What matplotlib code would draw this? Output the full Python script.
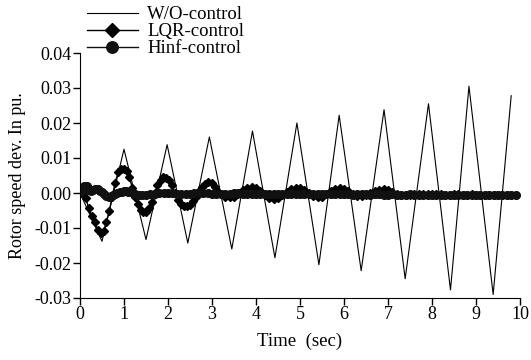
import matplotlib
matplotlib.use("Agg")
import matplotlib.pyplot as plt
from matplotlib.ticker import FormatStrFormatter

plt.rcParams['font.family'] = ['Liberation Serif', 'DejaVu Serif']

# W/O-control: triangle wave (turning points)
wo_t = [0.0, 0.50, 1.00, 1.50, 1.98, 2.45, 2.94, 3.45, 3.92, 4.43, 4.93,
        5.43, 5.89, 6.39, 6.91, 7.39, 7.92, 8.42, 8.84, 9.39, 9.80]
wo_v = [0.0, -0.0138, 0.0125, -0.0133, 0.0138, -0.0143, 0.0160, -0.0160,
        0.0177, -0.0185, 0.0200, -0.0205, 0.0222, -0.0222, 0.0238, -0.0245,
        0.0255, -0.0277, 0.0305, -0.0290, 0.0278]

# LQR-control
lqr_t = [0.00, 0.07, 0.13, 0.20, 0.27, 0.33, 0.40, 0.47, 0.54, 0.60, 0.67,
         0.73, 0.80, 0.87, 0.93, 1.00, 1.06, 1.12, 1.19, 1.25, 1.31, 1.38,
         1.44, 1.51, 1.57, 1.63, 1.70, 1.76, 1.83, 1.89, 1.96, 2.02, 2.09,
         2.15, 2.22, 2.29, 2.36, 2.43, 2.50, 2.57, 2.64, 2.71, 2.78, 2.85,
         2.92, 2.99, 3.06, 3.13, 3.20, 3.30, 3.40, 3.50, 3.60, 3.70, 3.80,
         3.90, 4.00, 4.10, 4.20, 4.30, 4.40, 4.50, 4.60, 4.70, 4.80, 4.90,
         5.00, 5.10, 5.20, 5.30, 5.40, 5.50, 5.60, 5.70, 5.80, 5.90, 6.00,
         6.10, 6.20, 6.30, 6.40, 6.50, 6.60, 6.70, 6.80, 6.90, 7.00, 7.10,
         7.20, 7.30, 7.40, 7.50, 7.60, 7.70, 7.80, 7.90, 8.00, 8.10, 8.20,
         8.30, 8.40, 8.50, 8.60, 8.70, 8.80, 8.90, 9.00, 9.10, 9.20, 9.30,
         9.40, 9.50, 9.60, 9.70, 9.80, 9.90]
lqr_v = [0.0000, 0.0000, -0.0015, -0.0044, -0.0066, -0.0084, -0.0105,
         -0.0113, -0.0108, -0.0082, -0.0050, -0.0010, 0.0030, 0.0060,
         0.0068, 0.0070, 0.0062, 0.0045, 0.0015, -0.0010, -0.0030, -0.0048,
         -0.0054, -0.0055, -0.0042, -0.0025, 0.0000, 0.0022, 0.0038, 0.0045,
         0.0042, 0.0036, 0.0022, 0.0000, -0.0020, -0.0030, -0.0036, -0.0038,
         -0.0034, -0.0024, -0.0010, 0.0005, 0.0018, 0.0027, 0.0031, 0.0028,
         0.0016, 0.0004, -0.0004, -0.0010, -0.0012, -0.0010, -0.0002, 0.0008,
         0.0014, 0.0016, 0.0013, 0.0005, -0.0006, -0.0014, -0.0017, -0.0015,
         -0.0007, 0.0004, 0.0011, 0.0014, 0.0014, 0.0009, 0.0000, -0.0008,
         -0.0011, -0.0010, -0.0004, 0.0005, 0.0011, 0.0013, 0.0011, 0.0005,
         -0.0003, -0.0008, -0.0009, -0.0007, 0.0000, 0.0007, 0.0010, 0.0011,
         0.0008, 0.0002, -0.0003, -0.0006, -0.0006, -0.0005, -0.0003,
         -0.0002, -0.0003, -0.0004, -0.0004, -0.0003, -0.0004, -0.0005,
         -0.0005, -0.0004, -0.0004, -0.0005, -0.0005, -0.0004, -0.0005,
         -0.0005, -0.0006, -0.0005, -0.0005, -0.0006, -0.0006, -0.0005,
         -0.0006, -0.0006]

# Hinf-control
hinf_t = [0.00, 0.05, 0.10, 0.15, 0.20, 0.25, 0.30, 0.35, 0.40, 0.45, 0.50,
          0.55, 0.60, 0.65, 0.70, 0.75, 0.80, 0.85, 0.90, 0.95, 1.00, 1.05,
          1.10, 1.15, 1.20, 1.25, 1.30, 1.35, 1.40, 1.50, 1.60, 1.70, 1.80,
          1.90, 2.00, 2.10, 2.20, 2.30, 2.40, 2.50, 2.60, 2.70, 2.80, 2.90,
          3.00, 3.10, 3.20, 3.30, 3.40, 3.50, 3.60, 3.70, 3.80, 3.90, 4.00,
          4.10, 4.20, 4.30, 4.40, 4.50, 4.60, 4.70, 4.80, 4.90, 5.00, 5.10,
          5.20, 5.30, 5.40, 5.50, 5.60, 5.70, 5.80, 5.90, 6.00, 6.10, 6.20,
          6.30, 6.40, 6.50, 6.60, 6.70, 6.80, 6.90, 7.00, 7.10, 7.20, 7.30,
          7.40, 7.50, 7.60, 7.70, 7.80, 7.90, 8.00, 8.10, 8.20, 8.30, 8.40,
          8.50, 8.60, 8.70, 8.80, 8.90, 9.00, 9.10, 9.20, 9.30, 9.40, 9.50,
          9.60, 9.70, 9.80, 9.90]
hinf_v = [0.0000, 0.0010, 0.0020, 0.0020, 0.0010, 0.0005, 0.0008, 0.0011,
          0.0011, 0.0007, 0.0002, -0.0004, -0.0009, -0.0011, -0.0009,
          -0.0005, -0.0002, 0.0001, 0.0003, 0.0004, 0.0005, 0.0005, 0.0004,
          0.0002, -0.0001, -0.0004, -0.0006, -0.0007, -0.0006, -0.0005,
          -0.0004, -0.0002, 0.0000, 0.0001, 0.0001, 0.0000, -0.0002, -0.0003,
          -0.0003, -0.0002, -0.0001, 0.0000, 0.0000, -0.0001, -0.0002,
          -0.0003, -0.0003, -0.0002, -0.0002, -0.0001, -0.0001, -0.0002,
          -0.0003, -0.0003, -0.0002, -0.0002, -0.0003, -0.0004, -0.0003,
          -0.0003, -0.0002, -0.0002, -0.0003, -0.0003, -0.0004, -0.0003,
          -0.0003, -0.0004, -0.0004, -0.0003, -0.0003, -0.0004, -0.0004,
          -0.0003, -0.0004, -0.0004, -0.0005, -0.0004, -0.0004, -0.0004,
          -0.0005, -0.0004, -0.0004, -0.0005, -0.0005, -0.0004, -0.0005,
          -0.0005, -0.0005, -0.0004, -0.0005, -0.0005, -0.0005, -0.0006,
          -0.0005, -0.0005, -0.0006, -0.0005, -0.0005, -0.0006, -0.0006,
          -0.0005, -0.0006, -0.0006, -0.0006, -0.0005, -0.0006, -0.0006,
          -0.0006, -0.0007, -0.0006, -0.0006, -0.0007, -0.0007]

x_ticks = [0, 1, 2, 3, 4, 5, 6, 7, 8, 9, 10]
y_ticks = [-0.03, -0.02, -0.01, 0.00, 0.01, 0.02, 0.03, 0.04]

fig = plt.figure(figsize=(5.31, 3.6), dpi=100)
ax = fig.add_axes([80 / 531, 62 / 360, 440 / 531, 245 / 360])

ax.plot(wo_t, wo_v, color='black', linewidth=0.8, label='W/O-control')
ax.plot(lqr_t, lqr_v, color='black', linewidth=1.0, marker='D',
        markersize=4.5, label='LQR-control')
ax.plot(hinf_t, hinf_v, color='#111111', linewidth=1.0, marker='o',
        markersize=5.5, label='Hinf-control')

ax.set_xlim(0, 10)
ax.set_ylim(-0.03, 0.04)
ax.set_xticks(x_ticks)
ax.set_yticks(y_ticks)
ax.yaxis.set_major_formatter(FormatStrFormatter('%.2f'))
ax.spines['top'].set_visible(False)
ax.spines['right'].set_visible(False)
ax.tick_params(direction='out', length=5, width=1, labelsize=13, pad=1)

ax.set_xlabel('Time  (sec)', fontsize=13.5, labelpad=7)
ax.set_ylabel('Rotor speed dev. In pu.', fontsize=13, labelpad=6)

fig.legend(loc='upper left', bbox_to_anchor=(87 / 531, 1 - 6 / 360),
           frameon=False, fontsize=13.5, numpoints=1, handlelength=2.7,
           handletextpad=0.5, labelspacing=0.0, borderpad=0,
           borderaxespad=0, markerscale=1.5)

fig.savefig('out.png', dpi=100)
